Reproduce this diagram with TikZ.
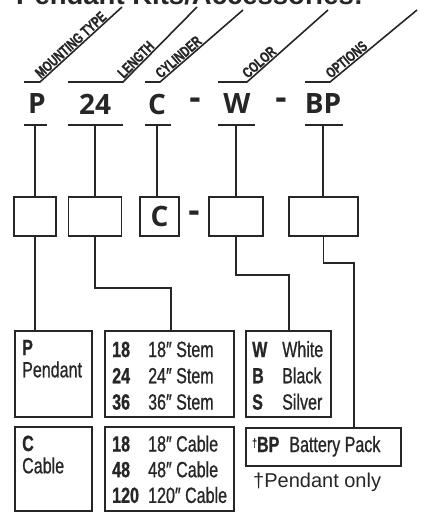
\documentclass[tikz,border=0pt]{standalone}
\usepackage{fontspec}
\setmainfont{Liberation Sans}
\newfontfamily\codefont{Open Sans}
\newfontfamily\narrowfont{Liberation Sans}[FakeStretch=0.73, FakeBold=0.8]
\newfontfamily\fieldfont{Liberation Sans}[FakeStretch=0.72, FakeBold=0.8]
\usetikzlibrary{positioning}

\begin{document}
\begin{tikzpicture}[
    x=1pt, y=-1pt,
    line/.style={line width=1.6pt, draw=black!85},
    slot/.style={rectangle, draw=black!85, line width=1.6pt, minimum height=39pt, inner sep=0pt},
    code/.style={font=\codefont\bfseries\fontsize{28}{28}\selectfont, text=black!85, inner sep=0pt},
    fieldname/.style={font=\fieldfont\bfseries\fontsize{15}{15}\selectfont, text=black!85, inner sep=0.5pt, anchor=south west},
    panel/.style={rectangle, draw=black!85, line width=1.6pt, inner sep=0pt},
    entry/.style={font=\narrowfont\fontsize{22}{26.3}\selectfont, text=black!85, inner sep=0pt, anchor=base west}
]
    \useasboundingbox (0,0) rectangle (424,512);

    \node[font=\bfseries\fontsize{27.5}{27.5}\selectfont, text=black!85, inner sep=0pt, anchor=base west] (title) at (16,4) {Pendant Kits/Accessories:};

    % field names on the slanted leaders
    \draw[line] (24,82) -- (40,82) -- (122,7);
    \draw[line] (68,82) -- (123,82) -- (197,7);
    \draw[line] (145,82) -- (160,82) -- (243,10);
    \draw[line] (218,82) -- (247,82) -- (328,10);
    \draw[line] (305,82) -- (330,82) -- (417,10);
    \node[fieldname, rotate=42.4] (fMount) at (41,80) {MOUNTING TYPE};
    \node[fieldname, rotate=45.4] (fLength) at (124,80) {LENGTH};
    \node[fieldname, rotate=40.9] (fCyl) at (161,80) {CYLINDER};
    \node[fieldname, rotate=41.6] (fColor) at (248,80) {COLOR};
    \node[fieldname, rotate=39.6] (fOpt) at (331,80) {OPTIONS};

    \node[code] (cP) at (37,104) {P};
    \node[code] (cL) at (95,104) {24};
    \node[code] (cC) at (157,104) {C};
    \node[code, scale=1.25] (cD1) at (195,104) {-};
    \node[code] (cW) at (237,104) {W};
    \node[code, scale=1.25] (cD2) at (281,104) {-};
    \node[code] (cO) at (323,104) {BP};

    \coordinate (tP) at (35,125);
    \coordinate (tL) at (95,125);
    \coordinate (tC) at (157,125);
    \coordinate (tW) at (236,125);
    \coordinate (tO) at (323,125);
    \draw[line] (24,125) -- (47,125);
    \draw[line] (68,125) -- (123,125);
    \draw[line] (145,125) -- (171,125);
    \draw[line] (218,125) -- (255,125);
    \draw[line] (305,125) -- (343,125);

    \node[slot, minimum width=42pt] (sP) at (35,216.5) {};
    \node[slot, minimum width=53pt] (sL) at (95,216.5) {};
    \node[slot, code, minimum width=39pt] (sC) at (159.5,216.5) {C};
    \node[code, scale=1.25] (sD) at (194,217) {-};
    \node[slot, minimum width=54pt] (sW) at (236,216.5) {};
    \node[slot, minimum width=69pt] (sO) at (323.5,216.5) {};

    \draw[line] (tP) -- (tP |- sP.north);
    \draw[line] (tL) -- (tL |- sL.north);
    \draw[line] (tC) -- (tC |- sC.north);
    \draw[line] (tW) -- (tW |- sW.north);
    \draw[line] (tO) -- (tO |- sO.north);

    \node[panel, minimum width=77pt, minimum height=86pt] (pend) at (53.5,374) {};
    \node[panel, minimum width=77pt, minimum height=84pt] (cable) at (53.5,469) {};
    \node[panel, minimum width=129pt, minimum height=86pt] (stem) at (169.5,374) {};
    \node[panel, minimum width=129pt, minimum height=84pt] (cord) at (169.5,469) {};
    \node[panel, minimum width=85pt, minimum height=86pt] (shade) at (288.5,374) {};
    \node[panel, minimum width=155pt, minimum height=38pt] (pack) at (323.5,447) {};

    \coordinate (kL) at (171,288);
    \coordinate (kW) at (289,275);
    \coordinate (kO) at (354,263);
    \draw[line] (sP.south) -- (sP.south |- pend.north);
    \draw[line] (sL.south) |- (kL) -- (kL |- stem.north);
    \draw[line] (sW.south) |- (kW) -- (kW |- shade.north);
    \draw[line] (sO.south) |- (kO) -- (kO |- pack.north);

    \node[entry] (tPend) at (22,355) {\begin{tabular}[t]{@{}l@{}}\textbf{P}\\[-4pt]Pendant\end{tabular}};
    \node[entry] (tCable) at (22,451) {\begin{tabular}[t]{@{}l@{}}\textbf{C}\\[-4pt]Cable\end{tabular}};
    \node[entry] (tStem) at (112,357) {\begin{tabular}[t]{@{}p{36pt}@{}l@{}}\textbf{18} & 18″ Stem\\ \textbf{24} & 24″ Stem\\ \textbf{36} & 36″ Stem\end{tabular}};
    \node[entry] (tCord) at (112,451.5) {\begin{tabular}[t]{@{}p{36pt}@{}l@{}}\textbf{18} & 18″ Cable\\[-0.6pt] \textbf{48} & 48″ Cable\\[-0.6pt] \textbf{120} & 120″ Cable\end{tabular}};
    \node[entry] (tShade) at (252,357) {\begin{tabular}[t]{@{}p{30pt}@{}l@{}}\textbf{W} & White\\ \textbf{B} & Black\\ \textbf{S} & Silver\end{tabular}};
    \node[entry] (tPack) at (252,452) {\raisebox{5pt}{\fontsize{12}{12}\selectfont †}\textbf{BP}\hspace{10pt}Battery Pack};
    \node[font=\fontsize{20}{20}\selectfont, text=black!85, inner sep=0pt, anchor=base west] (note) at (253,487) {†Pendant only};
\end{tikzpicture}
\end{document}
